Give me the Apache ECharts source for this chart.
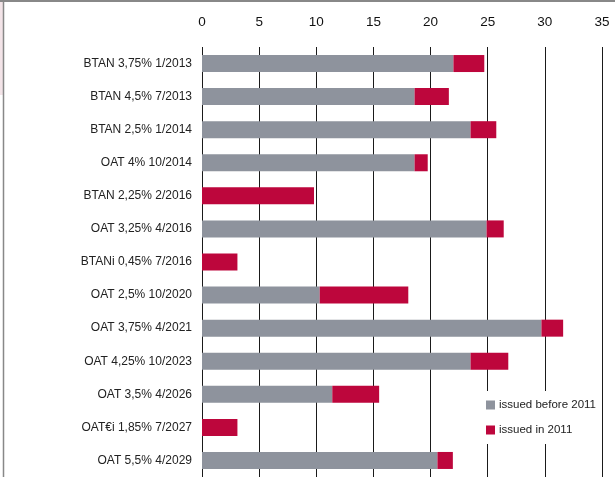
<!DOCTYPE html>
<html>
<head>
    <meta charset="utf-8" />
    <title>Bonds issued</title>
    <style>
        * { margin: 0; padding: 0 }
        html, body { width: 100%; height: 100%; background: #fff; }
        #chart { width: 615px; height: 477px; }
    </style>
</head>
<body>
    <div id="chart"></div>
    <script src="https://cdn.jsdelivr.net/npm/echarts@6/dist/echarts.min.js"></script>
    <script>
        // bond lines, top to bottom
        const bonds = [
            'BTAN 3,75% 1/2013', 'BTAN 4,5% 7/2013', 'BTAN 2,5% 1/2014', 'OAT 4% 10/2014',
            'BTAN 2,25% 2/2016', 'OAT 3,25% 4/2016', 'BTANi 0,45% 7/2016', 'OAT 2,5% 10/2020',
            'OAT 3,75% 4/2021', 'OAT 4,25% 10/2023', 'OAT 3,5% 4/2026', 'OAT€i 1,85% 7/2027',
            'OAT 5,5% 4/2029'
        ];
        const beforeYear = [22.0, 18.6, 23.5, 18.6, 0, 24.9, 0, 10.3, 29.7, 23.5, 11.4, 0, 20.6];
        const inYear = [2.7, 3.0, 2.25, 1.15, 9.8, 1.5, 3.1, 7.75, 1.9, 3.3, 4.1, 3.1, 1.35];
        const seriesNames = ['issued before 2011', 'issued in 2011'];
        const colors = ['#8e939d', '#bd063c'];

        const font = '"Liberation Sans", Arial, sans-serif';
        const chart = echarts.init(document.getElementById('chart'));
        chart.setOption({
            animation: false,
            textStyle: { fontFamily: font },
            grid: { left: 202, top: 47, width: 400, height: 433 },
            legend: {
                orient: 'vertical',
                left: 482,
                top: 391,
                padding: [8, 6, 8, 4],
                itemGap: 13,
                itemWidth: 9,
                itemHeight: 9,
                icon: 'rect',
                backgroundColor: '#fff',
                textStyle: { fontSize: 11.5, color: '#222', padding: [0, 0, 0, -1] },
                data: seriesNames
            },
            xAxis: {
                type: 'value',
                position: 'top',
                min: 0,
                max: 35,
                interval: 5,
                axisLine: { show: false },
                axisTick: { show: false },
                axisLabel: { color: '#111', fontSize: 13.5, margin: 18 },
                splitLine: { show: true, lineStyle: { color: '#1a1a1a', width: 1 } }
            },
            yAxis: {
                type: 'category',
                inverse: true,
                data: bonds,
                axisLine: { show: false },
                axisTick: { show: false },
                axisLabel: { color: '#222', fontSize: 12, margin: 10 }
            },
            series: [
                {
                    name: seriesNames[0], type: 'bar', stack: 'total', barWidth: 17,
                    itemStyle: { color: colors[0] }, data: beforeYear
                },
                {
                    name: seriesNames[1], type: 'bar', stack: 'total', barWidth: 17,
                    itemStyle: { color: colors[1] }, data: inYear
                }
            ],
            graphic: [
                { type: 'rect', left: 0, top: 0, shape: { width: 3, height: 95 }, style: { fill: '#f3e4e8' } },
                { type: 'line', shape: { x1: 0, y1: 1, x2: 615, y2: 1 }, style: { stroke: '#888', lineWidth: 2 } },
                { type: 'line', shape: { x1: 3.5, y1: 0, x2: 3.5, y2: 477 }, style: { stroke: '#888', lineWidth: 1.5 } }
            ]
        });
    </script>
</body>
</html>
